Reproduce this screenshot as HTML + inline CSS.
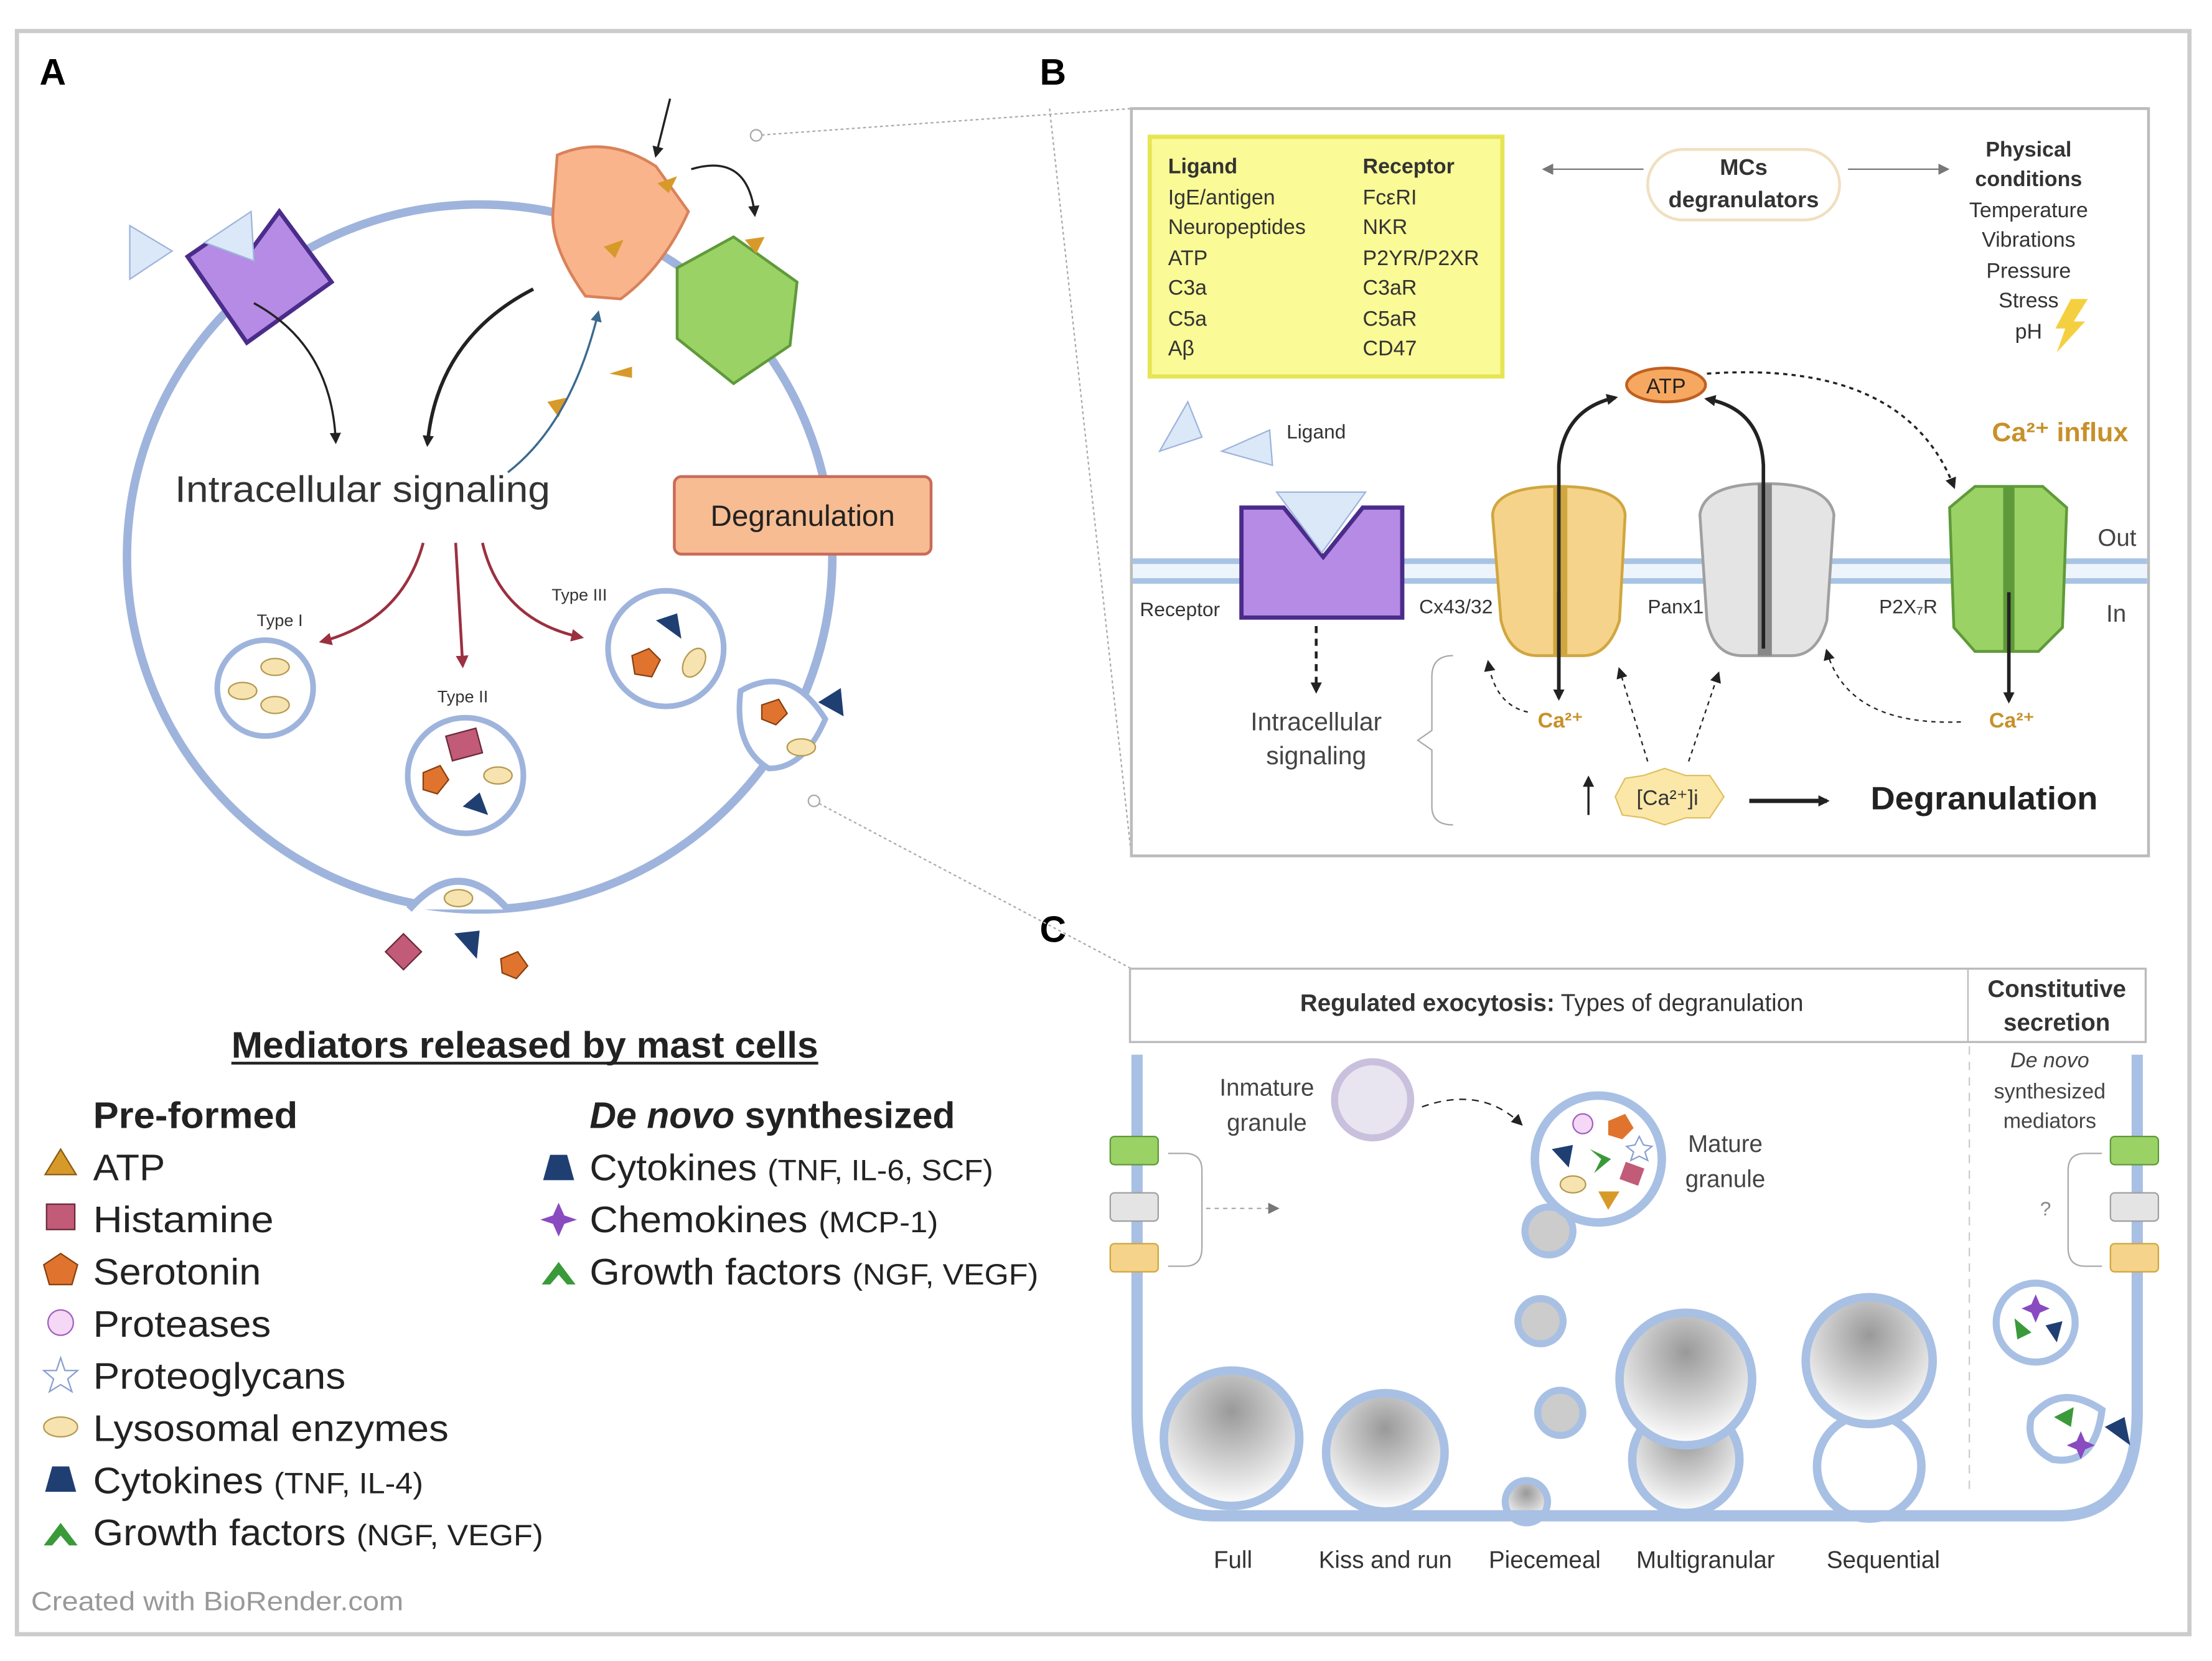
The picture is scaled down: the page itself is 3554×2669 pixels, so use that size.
<!DOCTYPE html>
<html><head><meta charset="utf-8"><style>
html,body{margin:0;padding:0;background:#fff}
svg{display:block}
text{font-family:"Liberation Sans",sans-serif}
</style></head><body>
<svg width="3554" height="2669" viewBox="0 0 1568 1178" preserveAspectRatio="none" xmlns="http://www.w3.org/2000/svg">
<defs>
<marker id="ab" markerWidth="8" markerHeight="8" refX="6" refY="4" orient="auto" markerUnits="userSpaceOnUse"><path d="M0,0 L8,4 L0,8z" fill="#222"/></marker>
<marker id="ar" markerWidth="9" markerHeight="9" refX="7" refY="4.5" orient="auto" markerUnits="userSpaceOnUse"><path d="M0,0 L9,4.5 L0,9z" fill="#9b3040"/></marker>
<marker id="ag" markerWidth="8" markerHeight="8" refX="6" refY="4" orient="auto" markerUnits="userSpaceOnUse"><path d="M0,0 L8,4 L0,8z" fill="#777"/></marker>
<marker id="abl" markerWidth="8" markerHeight="8" refX="6" refY="4" orient="auto" markerUnits="userSpaceOnUse"><path d="M0,0 L8,4 L0,8z" fill="#3a6a90"/></marker>
<radialGradient id="gr" cx="0.5" cy="0.3" r="0.7"><stop offset="0" stop-color="#999"/><stop offset="1" stop-color="#fff"/></radialGradient>
</defs>
<rect x="0" y="0" width="1568" height="1178" fill="#fff"/>
<rect x="12" y="22" width="1540" height="1137" fill="none" stroke="#ccc" stroke-width="3"/>
<text x="28" y="60" font-size="26" font-weight="bold">A</text>
<text x="737" y="60" font-size="26" font-weight="bold">B</text>
<text x="737" y="668" font-size="26" font-weight="bold">C</text>

<circle cx="340" cy="395" r="250" fill="none" stroke="#9fb4dc" stroke-width="6"/>
<line x1="536" y1="96" x2="802" y2="77" stroke="#aaa" stroke-dasharray="2,2"/>
<line x1="577" y1="568" x2="802" y2="687" stroke="#aaa" stroke-dasharray="2,2"/>
<line x1="744" y1="77" x2="802" y2="607" stroke="#aaa" stroke-dasharray="2,2"/>
<circle cx="536" cy="96" r="4" fill="#fff" stroke="#aaa"/>
<circle cx="577" cy="568" r="4" fill="#fff" stroke="#aaa"/>
<path d="M133,182 L165,160 L176,180 L198,150 L235,200 L175,243z" fill="#b58be6" stroke="#4a2c8a" stroke-width="3"/>
<path d="M92,160 L122,178 L92,198z" fill="#dbe8f8" stroke="#9fb4dc"/>
<path d="M145,172 L178,150 L180,185z" fill="#dbe8f8" stroke="#9fb4dc"/>
<path d="M395,110 Q430,95 465,118 L488,150 Q470,190 440,212 L415,210 Q390,175 392,150z" fill="#f9b48c" stroke="#d9825a" stroke-width="2"/>
<path d="M480,190 L520,168 L565,200 L560,245 L520,272 L480,240z" fill="#9bd266" stroke="#5f9a3a" stroke-width="2"/>
<path d="M466,130 L480,125 L474,137z" fill="#d79a2a"/><path d="M428,175 L442,170 L436,183z" fill="#d79a2a"/>
<path d="M528,170 L542,168 L536,180z" fill="#d79a2a"/><path d="M388,285 L402,282 L396,296z" fill="#d79a2a"/><path d="M432,265 L448,260 L448,268z" fill="#d79a2a"/>
<path d="M475,70 L465,110" stroke="#222" stroke-width="1.5" marker-end="url(#ab)"/>
<path d="M490,120 Q530,108 535,152" fill="none" stroke="#222" stroke-width="1.5" marker-end="url(#ab)"/>
<path d="M378,205 Q310,240 303,315" fill="none" stroke="#222" stroke-width="2.5" marker-end="url(#ab)"/>
<path d="M180,215 Q235,245 238,313" fill="none" stroke="#222" stroke-width="1.5" marker-end="url(#ab)"/>
<path d="M360,335 Q405,300 424,222" fill="none" stroke="#3a6a90" stroke-width="1.5" marker-end="url(#abl)"/>
<text x="124" y="356" font-size="26" fill="#333" textLength="266" lengthAdjust="spacingAndGlyphs">Intracellular signaling</text>
<rect x="478" y="338" width="182" height="55" rx="5" fill="#f7bc92" stroke="#c96b5a" stroke-width="2"/>
<text x="569" y="373" font-size="21" text-anchor="middle" fill="#222">Degranulation</text>
<path d="M300,385 Q285,440 228,455" fill="none" stroke="#9b3040" stroke-width="2" marker-end="url(#ar)"/>
<path d="M323,385 L328,472" fill="none" stroke="#9b3040" stroke-width="2" marker-end="url(#ar)"/>
<path d="M342,385 Q355,440 412,452" fill="none" stroke="#9b3040" stroke-width="2" marker-end="url(#ar)"/>
<text x="182" y="444" font-size="12" fill="#333">Type I</text>
<text x="310" y="498" font-size="12" fill="#333">Type II</text>
<text x="391" y="426" font-size="12" fill="#333">Type III</text>
<circle cx="188" cy="488" r="34" fill="#fff" stroke="#9fb4dc" stroke-width="4"/>
<ellipse cx="195" cy="473" rx="10" ry="6" fill="#f7e3b0" stroke="#b59a50"/><ellipse cx="172" cy="490" rx="10" ry="6" fill="#f7e3b0" stroke="#b59a50"/><ellipse cx="195" cy="500" rx="10" ry="6" fill="#f7e3b0" stroke="#b59a50"/>
<circle cx="330" cy="550" r="41" fill="#fff" stroke="#9fb4dc" stroke-width="4"/>
<rect x="318" y="519" width="22" height="18" fill="#c25b78" stroke="#6a2a3a" transform="rotate(-15 329 528)"/>
<path d="M300,548 L312,543 L318,553 L310,563 L300,560z" fill="#e0742e" stroke="#8a4010"/>
<path d="M328,572 L340,562 L346,578z" fill="#1f3f73"/>
<ellipse cx="353" cy="550" rx="10" ry="6" fill="#f7e3b0" stroke="#b59a50"/>
<circle cx="472" cy="460" r="41" fill="#fff" stroke="#9fb4dc" stroke-width="4"/>
<path d="M465,440 L480,435 L483,453z" fill="#1f3f73"/>
<path d="M448,465 L460,460 L468,468 L462,480 L450,478z" fill="#e0742e" stroke="#8a4010"/>
<ellipse cx="492" cy="470" rx="7" ry="11" fill="#f7e3b0" stroke="#b59a50" transform="rotate(30 492 470)"/>
<path d="M525,490 Q560,470 585,510 Q570,545 545,545 Q520,530 525,490z" fill="#fff" stroke="#9fb4dc" stroke-width="4"/>
<path d="M540,500 L552,496 L558,506 L550,514 L540,510z" fill="#e0742e" stroke="#8a4010"/>
<path d="M580,498 L596,488 L598,508z" fill="#1f3f73"/>
<ellipse cx="568" cy="530" rx="10" ry="6" fill="#f7e3b0" stroke="#b59a50"/>
<path d="M290,645 Q325,605 360,645" fill="#fff" stroke="#9fb4dc" stroke-width="5"/>
<ellipse cx="325" cy="637" rx="10" ry="6" fill="#f7e3b0" stroke="#b59a50"/>
<rect x="277" y="666" width="18" height="18" fill="#c25b78" stroke="#6a2a3a" transform="rotate(45 286 675)"/>
<path d="M322,662 L340,660 L338,680z" fill="#1f3f73"/>
<path d="M355,680 L367,675 L374,685 L366,694 L356,690z" fill="#e0742e" stroke="#8a4010"/>

<text x="164" y="750" font-size="26" font-weight="bold" fill="#222" textLength="416" lengthAdjust="spacingAndGlyphs">Mediators released by mast cells</text>
<line x1="164" y1="754" x2="580" y2="754" stroke="#222" stroke-width="2"/>
<g font-size="26" fill="#222">
<text x="66" y="800" font-weight="bold" textLength="145" lengthAdjust="spacingAndGlyphs">Pre-formed</text>
<text x="66" y="837" textLength="51" lengthAdjust="spacingAndGlyphs">ATP</text>
<text x="66" y="874" textLength="128" lengthAdjust="spacingAndGlyphs">Histamine</text>
<text x="66" y="911" textLength="119" lengthAdjust="spacingAndGlyphs">Serotonin</text>
<text x="66" y="948" textLength="126" lengthAdjust="spacingAndGlyphs">Proteases</text>
<text x="66" y="985" textLength="179" lengthAdjust="spacingAndGlyphs">Proteoglycans</text>
<text x="66" y="1022" textLength="252" lengthAdjust="spacingAndGlyphs">Lysosomal enzymes</text>
<text x="66" y="1059" textLength="234" lengthAdjust="spacingAndGlyphs">Cytokines <tspan font-size="21">(TNF, IL-4)</tspan></text>
<text x="66" y="1096" textLength="319" lengthAdjust="spacingAndGlyphs">Growth factors <tspan font-size="21">(NGF, VEGF)</tspan></text>
<text x="418" y="800" font-weight="bold" textLength="259" lengthAdjust="spacingAndGlyphs"><tspan font-style="italic">De novo</tspan> synthesized</text>
<text x="418" y="837" textLength="286" lengthAdjust="spacingAndGlyphs">Cytokines <tspan font-size="21">(TNF, IL-6, SCF)</tspan></text>
<text x="418" y="874" textLength="247" lengthAdjust="spacingAndGlyphs">Chemokines <tspan font-size="21">(MCP-1)</tspan></text>
<text x="418" y="911" textLength="318" lengthAdjust="spacingAndGlyphs">Growth factors <tspan font-size="21">(NGF, VEGF)</tspan></text>
</g>
<path d="M32,833 L43,815 L54,833z" fill="#d79a2a" stroke="#8a5a10"/>
<rect x="33" y="854" width="20" height="18" fill="#c25b78" stroke="#6a2a3a"/>
<path d="M43,889 L55,897 L51,911 L35,911 L31,897z" fill="#e0742e" stroke="#8a4010"/>
<circle cx="43" cy="938" r="9" fill="#f5d8f5" stroke="#a060c0"/>
<path d="M43,963 L46,972 L55,972 L48,978 L51,987 L43,982 L35,987 L38,978 L31,972 L40,972z" fill="#fff" stroke="#8aa0d0"/>
<ellipse cx="43" cy="1012" rx="12" ry="7" fill="#f7e3b0" stroke="#b59a50"/>
<path d="M32,1058 L37,1040 L49,1040 L54,1058z" fill="#1f3f73"/>
<path d="M31,1096 L43,1080 L55,1096 L49,1096 L43,1089 L37,1096z" fill="#3a9a3a"/>
<path d="M385,837 L390,819 L402,819 L407,837z" fill="#1f3f73"/>
<path d="M396,853 L400,862 L409,865 L400,868 L396,877 L392,868 L383,865 L392,862z" fill="#8a4ac0"/>
<path d="M384,911 L396,895 L408,911 L402,911 L396,904 L390,911z" fill="#3a9a3a"/>
<text x="22" y="1142" font-size="19" fill="#999" textLength="264" lengthAdjust="spacingAndGlyphs">Created with BioRender.com</text>

<rect x="802" y="77" width="721" height="530" fill="#fff" stroke="#bbb" stroke-width="2"/>
<rect x="815" y="97" width="250" height="170" fill="#fafa96" stroke="#e5e555" stroke-width="3"/>
<g font-size="15" fill="#333">
<text x="828" y="123" font-weight="bold">Ligand</text><text x="966" y="123" font-weight="bold">Receptor</text>
<text x="828" y="145">IgE/antigen</text><text x="966" y="145">FcεRI</text>
<text x="828" y="166">Neuropeptides</text><text x="966" y="166">NKR</text>
<text x="828" y="188">ATP</text><text x="966" y="188">P2YR/P2XR</text>
<text x="828" y="209">C3a</text><text x="966" y="209">C3aR</text>
<text x="828" y="231">C5a</text><text x="966" y="231">C5aR</text>
<text x="828" y="252">Aβ</text><text x="966" y="252">CD47</text>
</g>
<rect x="1168" y="106" width="136" height="50" rx="25" fill="#fff" stroke="#f0e0c0" stroke-width="2"/>
<text x="1236" y="124" font-size="16" font-weight="bold" text-anchor="middle" fill="#333">MCs</text>
<text x="1236" y="147" font-size="16" font-weight="bold" text-anchor="middle" fill="#333">degranulators</text>
<line x1="1165" y1="120" x2="1095" y2="120" stroke="#777" marker-end="url(#ag)"/>
<line x1="1310" y1="120" x2="1380" y2="120" stroke="#777" marker-end="url(#ag)"/>
<g font-size="15" fill="#333" text-anchor="middle">
<text x="1438" y="111" font-weight="bold">Physical</text><text x="1438" y="132" font-weight="bold">conditions</text>
<text x="1438" y="154">Temperature</text><text x="1438" y="175">Vibrations</text><text x="1438" y="197">Pressure</text><text x="1438" y="218">Stress</text><text x="1438" y="240">pH</text>
</g>
<path d="M1468,212 L1480,212 L1470,228 L1478,228 L1458,250 L1464,233 L1457,233z" fill="#f4d040"/>
<rect x="803" y="396" width="719" height="18" fill="#eef4fb"/>
<line x1="803" y1="398" x2="1522" y2="398" stroke="#a8c4e4" stroke-width="4"/>
<line x1="803" y1="412" x2="1522" y2="412" stroke="#a8c4e4" stroke-width="4"/>
<path d="M822,320 L852,310 L842,285z" fill="#dbe8f8" stroke="#9fb4dc"/>
<path d="M866,320 L900,305 L902,330z" fill="#dbe8f8" stroke="#9fb4dc"/>
<text x="912" y="311" font-size="14" fill="#333">Ligand</text>
<path d="M880,360 L910,360 L938,395 L966,360 L994,360 L994,438 L880,438z" fill="#b58be6" stroke="#4a2c8a" stroke-width="3"/>
<path d="M905,349 L968,349 L937,392z" fill="#dbe8f8" stroke="#9fb4dc"/>
<text x="808" y="437" font-size="14" fill="#333">Receptor</text>
<line x1="933" y1="444" x2="933" y2="490" stroke="#222" stroke-width="2" stroke-dasharray="5,4" marker-end="url(#ab)"/>
<text x="933" y="518" font-size="18" text-anchor="middle" fill="#444">Intracellular</text>
<text x="933" y="542" font-size="18" text-anchor="middle" fill="#444">signaling</text>
<path d="M1030,465 Q1015,465 1015,480 L1015,518 L1005,525 L1015,532 L1015,572 Q1015,585 1030,585" fill="none" stroke="#aaa"/>
<text x="1006" y="435" font-size="14" fill="#333">Cx43/32</text>
<path d="M1058,365 Q1060,345 1105,345 Q1150,345 1152,365 L1148,440 Q1140,465 1122,465 L1090,465 Q1070,465 1064,440z" fill="#f5d38a" stroke="#d0a640" stroke-width="2"/>
<rect x="1101" y="345" width="10" height="120" fill="#d0a640"/>
<text x="1168" y="435" font-size="14" fill="#333">Panx1</text>
<path d="M1205,365 Q1208,343 1252,343 Q1296,343 1300,365 L1295,440 Q1288,465 1270,465 L1235,465 Q1215,465 1210,440z" fill="#e4e4e4" stroke="#a0a0a0" stroke-width="2"/>
<rect x="1246" y="343" width="10" height="122" fill="#888"/>
<text x="1332" y="435" font-size="14" fill="#333">P2X₇R</text>
<path d="M1382,360 L1400,345 L1448,345 L1465,360 L1462,445 L1445,462 L1400,462 L1385,445z" fill="#9bd266" stroke="#5f9a3a" stroke-width="2"/>
<rect x="1420" y="345" width="8" height="117" fill="#5f9a3a"/>
<text x="1487" y="387" font-size="17" fill="#444">Out</text>
<text x="1493" y="441" font-size="17" fill="#444">In</text>
<ellipse cx="1181" cy="273" rx="28" ry="12" fill="#f7a860" stroke="#c06020" stroke-width="2"/>
<text x="1181" y="279" font-size="15" text-anchor="middle" fill="#222">ATP</text>
<path d="M1105,495 L1105,330 Q1108,290 1145,282" fill="none" stroke="#222" stroke-width="2.5" marker-end="url(#ab)"/>
<line x1="1105" y1="420" x2="1105" y2="495" stroke="#222" stroke-width="2.5" marker-end="url(#ab)"/>
<path d="M1250,460 L1250,330 Q1248,290 1210,283" fill="none" stroke="#222" stroke-width="2.5" marker-end="url(#ab)"/>
<line x1="1424" y1="420" x2="1424" y2="497" stroke="#222" stroke-width="2.5" marker-end="url(#ab)"/>
<path d="M1210,265 Q1350,255 1385,345" fill="none" stroke="#222" stroke-width="1.5" stroke-dasharray="3,3" marker-end="url(#ab)"/>
<text x="1412" y="313" font-size="19" font-weight="bold" fill="#c8902a">Ca²⁺ influx</text>
<text x="1090" y="516" font-size="15" font-weight="bold" fill="#c8902a">Ca²⁺</text>
<text x="1410" y="516" font-size="15" font-weight="bold" fill="#c8902a">Ca²⁺</text>
<path d="M1083,505 Q1060,500 1055,470" fill="none" stroke="#222" stroke-dasharray="3,3" marker-end="url(#ab)"/>
<path d="M1168,540 L1148,475" fill="none" stroke="#222" stroke-dasharray="3,3" marker-end="url(#ab)"/>
<path d="M1197,540 L1218,478" fill="none" stroke="#222" stroke-dasharray="3,3" marker-end="url(#ab)"/>
<path d="M1390,512 Q1310,515 1295,462" fill="none" stroke="#222" stroke-dasharray="3,3" marker-end="url(#ab)"/>
<path d="M1145,565 L1152,552 L1165,550 L1180,545 L1195,550 L1212,550 L1222,565 L1212,580 L1195,580 L1180,585 L1165,580 L1150,578z" fill="#fbe8a8" stroke="#e0c060"/>
<text x="1182" y="571" font-size="15" text-anchor="middle" fill="#333">[Ca²⁺]i</text>
<line x1="1126" y1="578" x2="1126" y2="552" stroke="#222" stroke-width="1.5" marker-end="url(#ab)"/>
<line x1="1240" y1="568" x2="1295" y2="568" stroke="#222" stroke-width="3" marker-end="url(#ab)"/>
<text x="1326" y="574" font-size="23" font-weight="bold" fill="#222" textLength="161" lengthAdjust="spacingAndGlyphs">Degranulation</text>

<rect x="801" y="687" width="720" height="52" fill="#fff" stroke="#bbb" stroke-width="1.5"/>
<line x1="1395" y1="687" x2="1395" y2="739" stroke="#bbb"/>
<text x="1100" y="717" font-size="17" text-anchor="middle" fill="#333"><tspan font-weight="bold">Regulated exocytosis:</tspan> Types of degranulation</text>
<text x="1458" y="707" font-size="17" font-weight="bold" text-anchor="middle" fill="#333">Constitutive</text>
<text x="1458" y="731" font-size="17" font-weight="bold" text-anchor="middle" fill="#333">secretion</text>
<line x1="1396" y1="742" x2="1396" y2="1060" stroke="#ccc" stroke-dasharray="6,5"/>
<circle cx="873" cy="1020" r="48" fill="url(#gr)" stroke="#a8c0e4" stroke-width="6"/>
<circle cx="982" cy="1030" r="42" fill="url(#gr)" stroke="#a8c0e4" stroke-width="6"/>
<circle cx="1082" cy="1065" r="15" fill="url(#gr)" stroke="#a8c0e4" stroke-width="5"/>
<circle cx="1195" cy="1035" r="38" fill="url(#gr)" stroke="#a8c0e4" stroke-width="6"/>
<circle cx="1195" cy="978" r="47" fill="url(#gr)" stroke="#a8c0e4" stroke-width="6"/>
<circle cx="1325" cy="1040" r="37" fill="#fff" stroke="#a8c0e4" stroke-width="6"/>
<circle cx="1325" cy="965" r="45" fill="url(#gr)" stroke="#a8c0e4" stroke-width="6"/>
<path d="M806,748 L806,1000 Q806,1075 860,1075 L1460,1075 Q1515,1075 1515,1000 L1515,748" fill="none" stroke="#a8c0e4" stroke-width="8"/>
<circle cx="1092" cy="937" r="16" fill="#ccc" stroke="#a8c0e4" stroke-width="5"/>
<circle cx="1106" cy="1002" r="16" fill="#ccc" stroke="#a8c0e4" stroke-width="5"/>
<circle cx="1098" cy="873" r="17" fill="#ccc" stroke="#a8c0e4" stroke-width="5"/>
<circle cx="973" cy="780" r="27" fill="#e8e4f0" stroke="#c8c0dc" stroke-width="5"/>
<path d="M1008,785 Q1050,770 1078,797" fill="none" stroke="#222" stroke-dasharray="5,4" marker-end="url(#ab)"/>
<text x="898" y="777" font-size="17" text-anchor="middle" fill="#444">Inmature</text>
<text x="898" y="802" font-size="17" text-anchor="middle" fill="#444">granule</text>
<circle cx="1133" cy="822" r="45" fill="#fff" stroke="#a8c0e4" stroke-width="6"/>
<circle cx="1122" cy="797" r="7" fill="#f5d8f5" stroke="#a060c0"/>
<path d="M1140,795 L1152,790 L1158,800 L1150,808 L1140,805z" fill="#e0742e"/>
<path d="M1100,815 L1115,812 L1112,828z" fill="#1f3f73"/>
<path d="M1127,815 L1142,822 L1130,832 L1135,822z" fill="#3a9a3a"/>
<path d="M1162,806 L1165,812 L1171,813 L1166,817 L1168,823 L1162,820 L1156,823 L1158,817 L1153,813 L1159,812z" fill="#fff" stroke="#8aa0d0"/>
<rect x="1150" y="826" width="14" height="13" fill="#c25b78" transform="rotate(20 1157 832)"/>
<ellipse cx="1115" cy="840" rx="9" ry="6" fill="#f7e3b0" stroke="#b59a50"/>
<path d="M1133,845 L1148,845 L1140,858z" fill="#d79a2a"/>
<text x="1223" y="817" font-size="17" text-anchor="middle" fill="#444">Mature</text>
<text x="1223" y="842" font-size="17" text-anchor="middle" fill="#444">granule</text>
<text x="1453" y="757" font-size="15" font-style="italic" text-anchor="middle" fill="#444">De novo</text>
<text x="1453" y="779" font-size="15" text-anchor="middle" fill="#444">synthesized</text>
<text x="1453" y="800" font-size="15" text-anchor="middle" fill="#444">mediators</text>
<rect x="787" y="806" width="34" height="20" rx="3" fill="#9bd266" stroke="#5f9a3a"/>
<rect x="787" y="846" width="34" height="20" rx="3" fill="#e4e4e4" stroke="#a0a0a0"/>
<rect x="787" y="882" width="34" height="20" rx="3" fill="#f5d38a" stroke="#d0a640"/>
<rect x="1496" y="806" width="34" height="20" rx="3" fill="#9bd266" stroke="#5f9a3a"/>
<rect x="1496" y="846" width="34" height="20" rx="3" fill="#e4e4e4" stroke="#a0a0a0"/>
<rect x="1496" y="882" width="34" height="20" rx="3" fill="#f5d38a" stroke="#d0a640"/>
<path d="M828,818 L840,818 Q852,818 852,830 L852,885 Q852,898 840,898 L828,898" fill="none" stroke="#aaa"/>
<line x1="855" y1="857" x2="905" y2="857" stroke="#aaa" stroke-dasharray="3,3" marker-end="url(#ag)"/>
<path d="M1490,818 L1478,818 Q1466,818 1466,830 L1466,885 Q1466,898 1478,898 L1490,898" fill="none" stroke="#aaa"/>
<text x="1450" y="862" font-size="14" text-anchor="middle" fill="#888">?</text>
<circle cx="1443" cy="938" r="28" fill="#fff" stroke="#a8c0e4" stroke-width="5"/>
<path d="M1443,918 L1446,925 L1453,928 L1446,931 L1443,938 L1440,931 L1433,928 L1440,925z" fill="#8a4ac0"/>
<path d="M1428,935 L1440,945 L1430,950z" fill="#3a9a3a"/>
<path d="M1450,940 L1462,937 L1458,952z" fill="#1f3f73"/>
<path d="M1440,1005 Q1460,980 1490,1000 Q1485,1040 1455,1035 Q1435,1025 1440,1005z" fill="#fff" stroke="#a8c0e4" stroke-width="5"/>
<path d="M1456,1005 L1470,998 L1468,1012z" fill="#3a9a3a"/>
<path d="M1475,1015 L1478,1022 L1485,1025 L1478,1028 L1475,1035 L1472,1028 L1465,1025 L1472,1022z" fill="#8a4ac0"/>
<path d="M1492,1012 L1506,1005 L1510,1025z" fill="#1f3f73"/>
<g font-size="17" fill="#333" text-anchor="middle">
<text x="874" y="1112">Full</text><text x="982" y="1112">Kiss and run</text><text x="1095" y="1112">Piecemeal</text><text x="1209" y="1112">Multigranular</text><text x="1335" y="1112">Sequential</text>
</g>
</svg>
</body></html>
